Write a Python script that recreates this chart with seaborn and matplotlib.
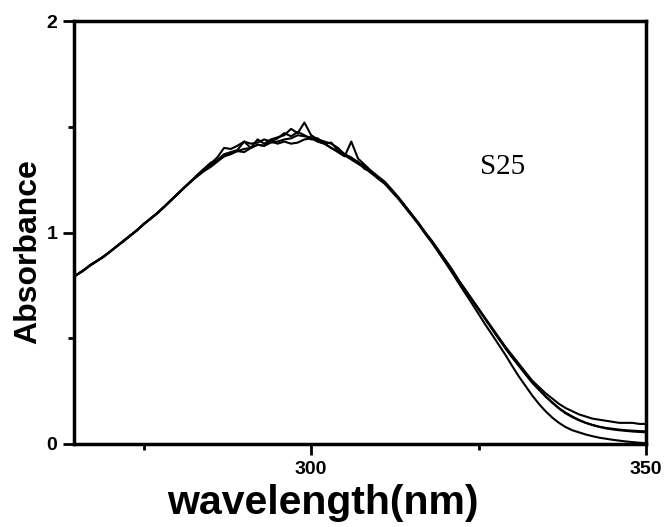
import matplotlib
matplotlib.use("Agg")
import matplotlib.pyplot as plt
import seaborn as sns
import pandas as pd
from matplotlib.ticker import MultipleLocator

wavelength = list(range(264, 351))

series_a = [0.78, 0.80, 0.82, 0.845, 0.866, 0.884, 0.91, 0.936, 0.958, 0.985, 1.01,
            1.04, 1.063, 1.092, 1.12, 1.148, 1.18, 1.212, 1.238, 1.27, 1.30,
            1.33, 1.342, 1.37, 1.38, 1.39, 1.43, 1.40, 1.44, 1.42, 1.44,
            1.45, 1.46, 1.49, 1.47, 1.52, 1.46, 1.44, 1.43, 1.42, 1.40,
            1.37, 1.355, 1.33, 1.315, 1.285, 1.26, 1.235, 1.20, 1.165, 1.125,
            1.085, 1.045, 1.00, 0.96, 0.915, 0.87, 0.825, 0.775, 0.73, 0.685,
            0.64, 0.595, 0.55, 0.505, 0.46, 0.42, 0.38, 0.34, 0.30, 0.27,
            0.24, 0.215, 0.19, 0.17, 0.155, 0.14, 0.13, 0.12, 0.115, 0.11,
            0.105, 0.10, 0.10, 0.10, 0.095, 0.095]

series_b = [0.78, 0.80, 0.822, 0.843, 0.865, 0.887, 0.91, 0.934, 0.962, 0.985, 1.012,
            1.038, 1.066, 1.09, 1.118, 1.152, 1.178, 1.21, 1.242, 1.268, 1.30,
            1.32, 1.34, 1.36, 1.375, 1.385, 1.395, 1.40, 1.415, 1.41, 1.425,
            1.43, 1.44, 1.445, 1.46, 1.455, 1.45, 1.43, 1.42, 1.40, 1.38,
            1.36, 1.43, 1.35, 1.32, 1.29, 1.265, 1.24, 1.205, 1.168, 1.128,
            1.087, 1.047, 1.002, 0.962, 0.917, 0.872, 0.827, 0.776, 0.73, 0.684,
            0.638, 0.592, 0.546, 0.50, 0.455, 0.413, 0.372, 0.332, 0.293, 0.26,
            0.225, 0.195, 0.168, 0.145, 0.127, 0.112, 0.10, 0.09, 0.082, 0.076,
            0.072, 0.068, 0.065, 0.063, 0.061, 0.06]

series_c = [0.78, 0.80, 0.82, 0.846, 0.864, 0.886, 0.91, 0.935, 0.96, 0.987, 1.01,
            1.04, 1.065, 1.09, 1.12, 1.15, 1.182, 1.21, 1.24, 1.272, 1.30,
            1.325, 1.355, 1.40, 1.395, 1.41, 1.43, 1.42, 1.425, 1.44, 1.43,
            1.445, 1.47, 1.455, 1.475, 1.46, 1.44, 1.445, 1.42, 1.425, 1.39,
            1.37, 1.35, 1.335, 1.30, 1.29, 1.255, 1.235, 1.20, 1.165, 1.125,
            1.085, 1.043, 1.00, 0.958, 0.913, 0.868, 0.823, 0.772, 0.727, 0.681,
            0.636, 0.59, 0.544, 0.498, 0.453, 0.41, 0.37, 0.33, 0.29, 0.257,
            0.225, 0.197, 0.17, 0.148, 0.13, 0.114, 0.10, 0.09, 0.081, 0.074,
            0.069, 0.065, 0.062, 0.059, 0.057, 0.055]

series_d = [0.78, 0.80, 0.82, 0.845, 0.865, 0.885, 0.91, 0.935, 0.96, 0.985, 1.01,
            1.04, 1.065, 1.09, 1.12, 1.15, 1.18, 1.21, 1.24, 1.265, 1.29,
            1.31, 1.335, 1.36, 1.37, 1.385, 1.38, 1.40, 1.415, 1.41, 1.43,
            1.42, 1.43, 1.42, 1.425, 1.44, 1.445, 1.43, 1.42, 1.40, 1.385,
            1.365, 1.345, 1.325, 1.305, 1.28, 1.255, 1.23, 1.195, 1.16, 1.12,
            1.08, 1.04, 0.995, 0.953, 0.907, 0.86, 0.812, 0.762, 0.713, 0.665,
            0.615, 0.565, 0.518, 0.47, 0.422, 0.37, 0.32, 0.275, 0.23, 0.19,
            0.155, 0.125, 0.10, 0.08, 0.065, 0.055, 0.045, 0.037, 0.03, 0.025,
            0.02, 0.016, 0.012, 0.009, 0.006, 0.004]

series_names = ["run1", "run2", "run3", "run4"]
x_ticks = [300, 350]
y_ticks = [0, 1, 2]

frames = []
for name, vals in zip(series_names, [series_a, series_b, series_c, series_d]):
    frames.append(pd.DataFrame({"wavelength": wavelength, "absorbance": vals, "run": name}))
df = pd.concat(frames, ignore_index=True)

sns.set_style("ticks")
plt.rcParams["font.family"] = ["Liberation Sans", "DejaVu Sans"]
plt.rcParams["text.color"] = "black"
plt.rcParams["axes.labelcolor"] = "black"
plt.rcParams["xtick.color"] = "black"
plt.rcParams["ytick.color"] = "black"

fig = plt.figure(figsize=(6.65, 5.27), dpi=100)
ax = fig.add_axes([74 / 665, 1 - 444 / 527, (646 - 74) / 665, (444 - 21) / 527])

sns.lineplot(data=df, x="wavelength", y="absorbance", hue="run",
             palette=["black"] * 4, estimator=None, legend=False,
             linewidth=1.5, ax=ax)

ax.set_xlim(264.6, 350)
ax.set_ylim(0, 2)
ax.set_xticks(x_ticks)
ax.set_yticks(y_ticks)
ax.xaxis.set_minor_locator(MultipleLocator(25))
ax.yaxis.set_minor_locator(MultipleLocator(0.5))
ax.tick_params(axis="both", which="major", direction="out", length=8, width=2,
               labelsize=14, top=False, right=False, pad=4, colors="black")
ax.tick_params(axis="both", which="minor", direction="out", length=4, width=2,
               top=False, right=False, colors="black")
for lab in ax.get_xticklabels() + ax.get_yticklabels():
    lab.set_fontweight("bold")
for sp in ax.spines.values():
    sp.set_visible(True)
    sp.set_linewidth(2.5)
    sp.set_color("black")

ax.set_xlabel("wavelength(nm)", fontsize=29.5, fontweight="bold", color="black")
ax.xaxis.set_label_coords((323 - 74) / 572, -(503 - 444) / 423)
ax.xaxis.label.set_va("center")
ax.set_ylabel("Absorbance", fontsize=23, fontweight="bold", color="black")
ax.yaxis.set_label_coords((28 - 74) / 572, 1 - (252 - 21) / 423)
ax.yaxis.label.set_va("center")

ax.text(328.6, 1.31, "S25", fontsize=21, family=["Liberation Serif"],
        ha="center", va="center", color="black")

fig.savefig("out.png", dpi=100)
